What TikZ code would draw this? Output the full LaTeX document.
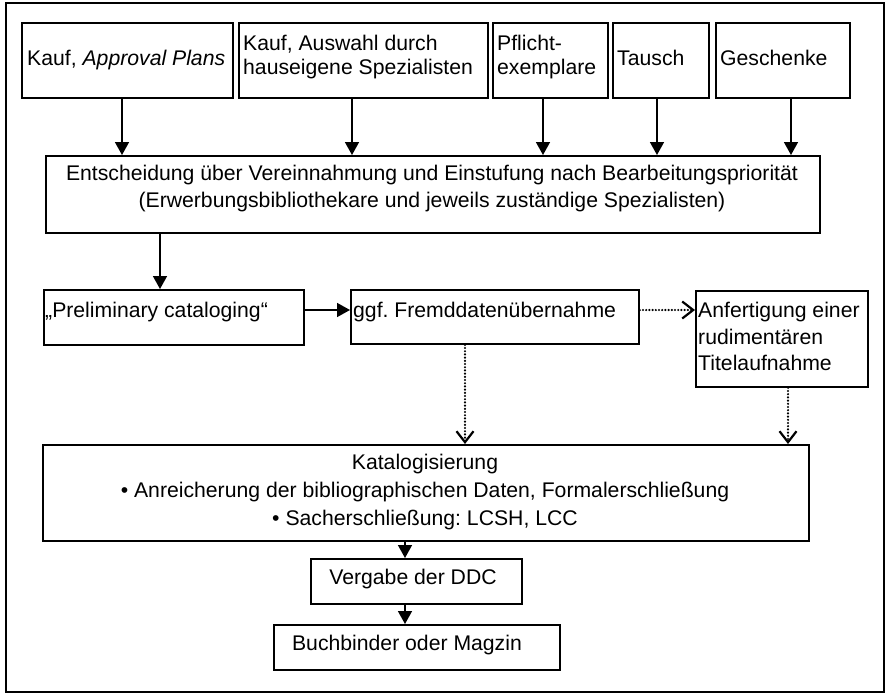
\documentclass[tikz,border=0pt]{standalone}
\usepackage{fontspec}
\setmainfont{Liberation Sans}
\usetikzlibrary{arrows.meta}
\begin{document}
\frenchspacing
\begin{tikzpicture}[x=1pt,y=-1pt,
  box/.style={draw, line width=1.8pt, rectangle, inner sep=0pt, anchor=north west},
  txt/.style={inner sep=0pt, anchor=north west, align=left, font=\fontsize{21.2}{24}\selectfont},
  ctxt/.style={inner sep=0pt, anchor=north, align=center, font=\fontsize{21.2}{27}\selectfont},
  arr/.style={line width=1.6pt, -{Triangle[length=13pt,width=14pt]}},
  darr/.style={line width=2.4pt, line cap=round, dash pattern=on 0pt off 3.2pt,
    -{Straight Barb[length=11pt,width=17pt,line width=2.2pt,line cap=butt]}}]
\useasboundingbox (0,0) rectangle (887,694);
\draw[line width=1.6pt] (6,3) rectangle (884,692);
% boxes
\node[box, minimum width=211pt, minimum height=75pt] (b1) at (21,22) {};
\node[box, minimum width=249pt, minimum height=75pt] (b2) at (238,22) {};
\node[box, minimum width=115pt, minimum height=75pt] (b3) at (492,22) {};
\node[box, minimum width=96pt, minimum height=75pt] (b4) at (612,22) {};
\node[box, minimum width=134pt, minimum height=75pt] (b5) at (715,22) {};
\node[box, minimum width=774pt, minimum height=77pt] (E) at (45,155) {};
\node[box, minimum width=260pt, minimum height=55pt] (P) at (43,289) {};
\node[box, minimum width=288pt, minimum height=54pt] (G) at (350,289) {};
\node[box, minimum width=172pt, minimum height=96pt] (A) at (695,290) {};
\node[box, minimum width=766pt, minimum height=96pt] (K) at (42,444) {};
\node[box, minimum width=211pt, minimum height=45pt] (V) at (310,558) {};
\node[box, minimum width=286pt, minimum height=45pt] (B) at (273,624) {};
% texts
\node[txt] (t1) at (27,50) {Kauf, \textit{Approval Plans}};
\node[txt] (t2) at (243,35) {Kauf, Auswahl durch\\hauseigene Spezialisten};
\node[txt] (t3) at (497,35) {Pflicht-\\exemplare};
\node[txt] (t4) at (617,50) {Tausch};
\node[txt] (t5) at (720,50) {Geschenke};
\node[ctxt] (tE) at (432,165) {Entscheidung über Vereinnahmung und Einstufung nach Bearbeitungspriorität\\(Erwerbungsbibliothekare und jeweils zuständige Spezialisten)};
\node[txt] (tP) at (45,302) {„Preliminary cataloging“};
\node[txt] (tG) at (353,302) {ggf.\ Fremddatenübernahme};
\node[txt, font=\fontsize{21.2}{26.7}\selectfont] (tA) at (698,302) {Anfertigung einer\\rudimentären\\Titelaufnahme};
\node[ctxt, font=\fontsize{21.2}{28}\selectfont] (tK) at (425,454) {Katalogisierung\\• Anreicherung der bibliographischen Daten, Formalerschließung\\• Sacherschließung: LCSH, LCC};
\node[ctxt] (tV) at (413,569) {Vergabe der DDC};
\node[ctxt] (tB) at (407,635) {Buchbinder oder Magzin};
% connector coordinates
\coordinate (x1) at (122,0);
\coordinate (x2) at (352,0);
\coordinate (x3) at (543,0);
\coordinate (x4) at (657,0);
\coordinate (x5) at (791,0);
\coordinate (xE) at (160,0);
\coordinate (yP) at (0,310);
\coordinate (xG) at (465,0);
\coordinate (xA) at (788,0);
\coordinate (xK) at (405,0);
% connectors
\draw[arr] (b1.south -| x1) -- (E.north -| x1);
\draw[arr] (b2.south -| x2) -- (E.north -| x2);
\draw[arr] (b3.south -| x3) -- (E.north -| x3);
\draw[arr] (b4.south -| x4) -- (E.north -| x4);
\draw[arr] (b5.south -| x5) -- (E.north -| x5);
\draw[arr] (E.south -| xE) -- (P.north -| xE);
\draw[arr] (P.east |- yP) -- (G.west |- yP);
\draw[darr] (G.east |- yP) -- (A.west |- yP);
\draw[darr] (G.south -| xG) -- (K.north -| xG);
\draw[darr] (A.south -| xA) -- (K.north -| xA);
\draw[arr] (K.south -| xK) -- (V.north -| xK);
\draw[arr] (V.south -| xK) -- (B.north -| xK);
\end{tikzpicture}
\end{document}
